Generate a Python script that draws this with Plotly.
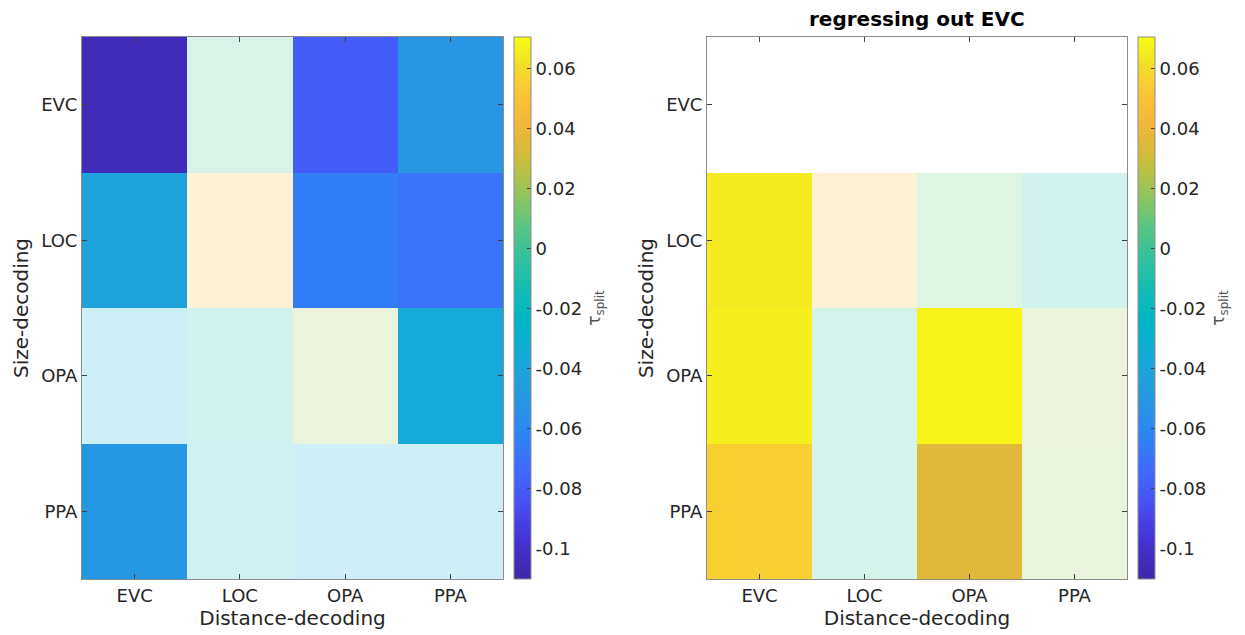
import plotly.graph_objects as go

regions = ["EVC", "LOC", "OPA", "PPA"]

# rows: Size-decoding (EVC, LOC, OPA, PPA); cols: Distance-decoding
tau_left = [
    [-0.105, 0.003, -0.080, -0.052],
    [-0.042, 0.050, -0.066, -0.070],
    [-0.029, -0.011, 0.020, -0.037],
    [-0.050, -0.016, -0.035, -0.030],
]
sig_left = [
    [1, 0, 1, 1],
    [1, 0, 1, 1],
    [0, 0, 0, 1],
    [1, 0, 0, 0],
]
tau_right = [
    [None, None, None, None],
    [0.065, 0.043, 0.010, -0.010],
    [0.066, -0.002, 0.068, 0.020],
    [0.056, -0.002, 0.036, 0.019],
]
sig_right = [
    [0, 0, 0, 0],
    [1, 0, 0, 0],
    [1, 0, 1, 0],
    [1, 0, 1, 0],
]
cb_ticks = [-0.1, -0.08, -0.06, -0.04, -0.02, 0, 0.02, 0.04, 0.06]
cb_ticktext = ["-0.1", "-0.08", "-0.06", "-0.04", "-0.02", "0", "0.02", "0.04", "0.06"]
zmin, zmax = -0.11, 0.0705

parula = [
    [0.00, "#3e26a8"], [0.07, "#4532d3"], [0.14, "#4750f2"], [0.20, "#3f6bfd"],
    [0.26, "#2f83f3"], [0.33, "#2797e3"], [0.40, "#18a8d8"], [0.47, "#02b4cb"],
    [0.53, "#11bab5"], [0.60, "#36c29a"], [0.66, "#61c67c"], [0.72, "#9bc455"],
    [0.78, "#d2bb3a"], [0.84, "#f2b63a"], [0.90, "#fcc538"], [0.95, "#f4e027"],
    [1.00, "#f9fb15"],
]


def split(z, sig, keep):
    return [[(v if (s == 1) == keep else None) for v, s in zip(zr, sr)] for zr, sr in zip(z, sig)]


FONT = "DejaVu Sans"
TXT = "#262626"

fig = go.Figure()
for z, sig, xa, ya, ca in [(tau_left, sig_left, "x", "y", "coloraxis"),
                           (tau_right, sig_right, "x2", "y2", "coloraxis2")]:
    fig.add_trace(go.Heatmap(x=regions, y=regions, z=split(z, sig, True), coloraxis=ca,
                             xaxis=xa, yaxis=ya, hoverongaps=False))
    fig.add_trace(go.Heatmap(x=regions, y=regions, z=split(z, sig, False), coloraxis=ca,
                             xaxis=xa, yaxis=ya, opacity=0.2, hoverongaps=False))

ydom = [1 - 579 / 635, 1 - 37 / 635]
axis_common = dict(showline=True, linecolor="#8c8c8c", linewidth=1, mirror="ticks",
                   ticks="inside", ticklen=5, tickcolor="#404040",
                   tickfont=dict(family=FONT, size=18, color=TXT),
                   showgrid=False, zeroline=False, type="category")
title_font = dict(family=FONT, size=20, color=TXT)


def cbar(x):
    return dict(x=x, xanchor="left", y=ydom[0], yanchor="bottom", len=ydom[1] - ydom[0],
                lenmode="fraction", thickness=17, thicknessmode="pixels", xpad=0, ypad=0,
                outlinecolor="#8c8c8c", outlinewidth=1,
                ticks="inside", ticklen=4, tickcolor="#404040",
                tickvals=cb_ticks, ticktext=cb_ticktext,
                tickfont=dict(family=FONT, size=18, color=TXT),
                title=dict(text="τ<sub>split</sub>", side="right",
                           font=dict(family=FONT, size=17, color="#555555")))


fig.update_layout(
    width=1245, height=635, margin=dict(l=0, r=0, t=0, b=0),
    paper_bgcolor="white", plot_bgcolor="white",
    font=dict(family=FONT, color=TXT),
    xaxis=dict(domain=[82 / 1245, 503 / 1245], anchor="y",
               title=dict(text="Distance-decoding", font=title_font, standoff=5),
               **axis_common),
    yaxis=dict(domain=ydom, anchor="x", autorange="reversed",
               title=dict(text="Size-decoding", font=title_font, standoff=7),
               **axis_common),
    xaxis2=dict(domain=[707 / 1245, 1127 / 1245], anchor="y2",
                title=dict(text="Distance-decoding", font=title_font, standoff=5),
                **axis_common),
    yaxis2=dict(domain=ydom, anchor="x2", autorange="reversed",
                title=dict(text="Size-decoding", font=title_font, standoff=7),
                **axis_common),
    coloraxis=dict(colorscale=parula, cmin=zmin, cmax=zmax, colorbar=cbar(514 / 1245)),
    coloraxis2=dict(colorscale=parula, cmin=zmin, cmax=zmax, colorbar=cbar(1138 / 1245)),
    annotations=[dict(text="<b>regressing out EVC</b>", x=(707 + 1127) / 2 / 1245, y=1 - 19 / 635,
                      xref="paper", yref="paper", showarrow=False, xanchor="center", yanchor="middle",
                      font=dict(family=FONT, size=20, color="black"))],
)

fig.write_html("out.html")
